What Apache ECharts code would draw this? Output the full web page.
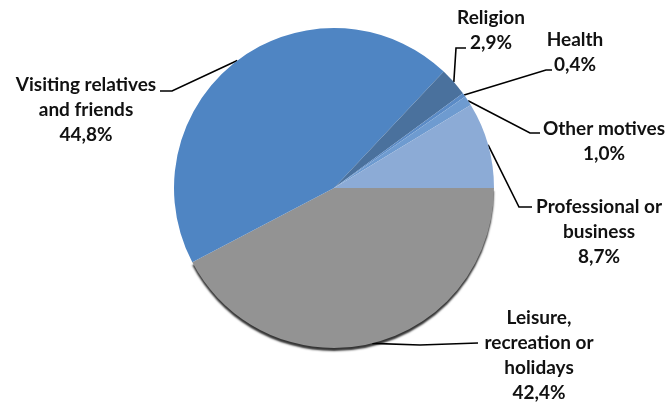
<!DOCTYPE html>
<html><head><meta charset="utf-8">
<script src="https://cdn.jsdelivr.net/npm/echarts@6/dist/echarts.min.js"></script>
<style>html,body{margin:0;padding:0;background:#fff}#c{width:666px;height:403px}</style>
</head><body><div id="c"></div>
<script>
// Data (clockwise from 3 o'clock)
const categories = ["Leisure,\nrecreation or\nholidays", "Visiting relatives\nand friends", "Religion", "Health", "Other motives", "Professional or\nbusiness"];
const values = [42.4, 44.8, 2.9, 0.4, 1.0, 8.7];
const valueLabels = ["42,4%", "44,8%", "2,9%", "0,4%", "1,0%", "8,7%"];

// Styles / layout (not data)
const colors = ["#939393", "#4f85c3", "#4a719d", "#5b8bc6", "#6e9bd0", "#8cabd6"];
const labelCenters = [[539, 355], [86, 110], [491, 30], [575, 52], [604, 141], [599, 232]];
const lineElbows = [[[420, 345], [478, 343]], [[172, 91], [160, 91]], [[456, 48], [466, 48]], [[546, 70], [552, 70]], [[530, 133], [540, 133]], [[519, 207], [532, 207]]];

const chart = echarts.init(document.getElementById('c'), null, {renderer: 'canvas'});
const data = categories.map((c, i) => ({
  name: c,
  value: values[i],
  itemStyle: Object.assign({color: colors[i]}, i === 0 ? {shadowColor: 'rgba(0,0,0,0.8)', shadowBlur: 2, shadowOffsetY: 3} : {}),
  label: {formatter: c + "\n" + valueLabels[i]}
}));
chart.setOption({
  animation: false,
  series: [{
    type: 'pie',
    center: [334, 188],
    radius: 160,
    startAngle: 0,
    clockwise: true,
    avoidLabelOverlap: false,
    data: data,
    itemStyle: {borderWidth: 0},
    label: {
      show: true,
      position: 'outside',
      color: '#111',
      fontFamily: 'Lato',
      fontWeight: 'bold',
      fontSize: 19,
      lineHeight: 25,
      align: 'center'
    },
    labelLine: {show: true, lineStyle: {color: '#000', width: 1.6}, smooth: false},
    emphasis: {disabled: true},
    labelLayout: function (p) {
      const i = p.dataIndex;
      const start = (p.labelLinePoints && p.labelLinePoints[0]) || lineElbows[i][0];
      return {
        x: labelCenters[i][0],
        y: labelCenters[i][1],
        align: 'center',
        verticalAlign: 'middle',
        labelLinePoints: [start, lineElbows[i][0], lineElbows[i][1]]
      };
    }
  }]
});
</script></body></html>
